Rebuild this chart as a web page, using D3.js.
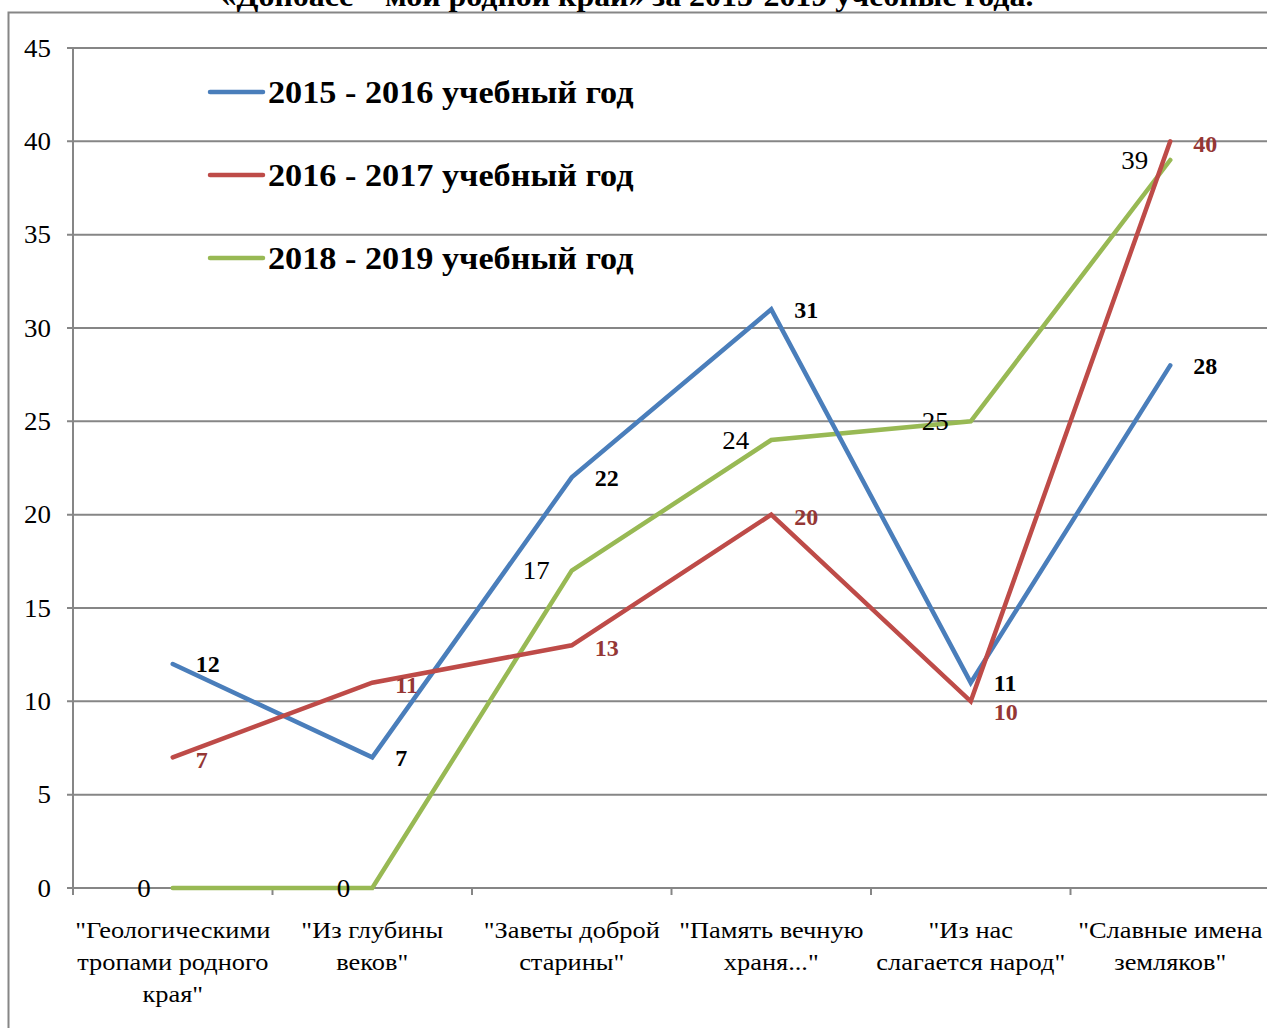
<!DOCTYPE html>
<html>
<head>
<meta charset="utf-8">
<script src="https://cdnjs.cloudflare.com/ajax/libs/d3/7.8.5/d3.min.js"></script>
<style>
  body { margin: 0; background: #fff; }
  svg { display: block; font-family: "Liberation Serif", "Times New Roman", serif; }
</style>
</head>
<body>
<div id="chart"></div>
<script>
// categories (line breaks as in the picture)
var categories = [
  "\"Геологическими\nтропами родного\nкрая\"",
  "\"Из глубины\nвеков\"",
  "\"Заветы доброй\nстарины\"",
  "\"Память вечную\nхраня...\"",
  "\"Из нас\nслагается народ\"",
  "\"Славные имена\nземляков\""
];
var seriesNames = ["2015 - 2016 учебный год", "2016 - 2017 учебный год", "2018 - 2019 учебный год"];
var values2015 = [12, 7, 22, 31, 11, 28];
var values2016 = [7, 11, 13, 20, 10, 40];
var values2018 = [0, 0, 17, 24, 25, 39];
var yTicks = [0, 5, 10, 15, 20, 25, 30, 35, 40, 45];
var title = "«Донбасс – мой родной край» за 2015-2019 учебные года.";

var W = 1267, H = 1028;
var svg = d3.select("#chart").append("svg")
    .attr("width", W)
    .attr("height", H);

var gridColor = "#868686";
// the picture's text is a little wider than Liberation Serif
var stretch = function (sx) {
  return function (px, py) { return "translate(" + px + "," + py + ") scale(" + sx + ",1)"; };
};
var wide = stretch(1.1);

// frame round the chart
svg.append("path")
    .attr("d", "M8.5," + H + "V12.5H" + W)
    .attr("fill", "none")
    .attr("stroke", gridColor)
    .attr("stroke-width", 2);

// title, cut by the top edge like in the picture
svg.append("text")
    .attr("transform", wide(627, 6))
    .attr("text-anchor", "middle")
    .attr("font-size", 29).attr("font-weight", "bold")
    .text(title);

var x = d3.scaleBand().domain(d3.range(categories.length)).range([73, 1270]).padding(0);
var y = d3.scaleLinear().domain([0, 45]).range([888, 48]);
var cx = function (i) { return x(i) + x.bandwidth() / 2; };

// horizontal grid + y ticks
svg.append("g").selectAll("line")
    .data(yTicks)
    .enter().append("line")
    .attr("x1", 67).attr("x2", 1270)
    .attr("y1", function (d) { return y(d); })
    .attr("y2", function (d) { return y(d); })
    .attr("stroke", gridColor).attr("stroke-width", 2);

svg.append("line")
    .attr("x1", 73).attr("x2", 73)
    .attr("y1", y(45)).attr("y2", y(0))
    .attr("stroke", gridColor).attr("stroke-width", 2);

svg.append("g").selectAll("text")
    .data(yTicks)
    .enter().append("text")
    .attr("transform", function (d) { return wide(51, y(d)); })
    .attr("dy", "0.35em")
    .attr("text-anchor", "end")
    .attr("font-size", 24.5)
    .text(function (d) { return d; });

// x ticks at category boundaries
var bounds = d3.range(categories.length + 1);
svg.append("g").selectAll("line")
    .data(bounds)
    .enter().append("line")
    .attr("x1", function (d) { return 73 + d * x.bandwidth(); })
    .attr("x2", function (d) { return 73 + d * x.bandwidth(); })
    .attr("y1", y(0)).attr("y2", y(0) + 7)
    .attr("stroke", gridColor).attr("stroke-width", 2);

// category labels
var catG = svg.append("g").selectAll("text")
    .data(categories)
    .enter().append("text")
    .attr("text-anchor", "middle")
    .attr("font-size", 24)
    .attr("transform", function (d, i) { return wide(cx(i), 938); });
catG.selectAll("tspan")
    .data(function (d) { return d.split("\n"); })
    .enter().append("tspan")
    .attr("x", 0)
    .attr("y", function (d, i) { return i * 32; })
    .text(function (d) { return d; });

// lines
var series = [
  { name: seriesNames[0], values: values2015, color: "#4A7EBB" },
  { name: seriesNames[1], values: values2016, color: "#BE4B48" },
  { name: seriesNames[2], values: values2018, color: "#98B954" }
];

var line = d3.line()
    .x(function (d, i) { return cx(i); })
    .y(function (d) { return y(d); });

// red sits over blue near "Из нас"
svg.append("g").selectAll("path")
    .data([series[2], series[0], series[1]])
    .enter().append("path")
    .attr("d", function (s) { return line(s.values); })
    .attr("fill", "none")
    .attr("stroke", function (s) { return s.color; })
    .attr("stroke-width", 4.5)
    .attr("stroke-linejoin", "miter")
    .attr("stroke-linecap", "round");

// data labels
svg.append("g").selectAll("text")
    .data(values2015)
    .enter().append("text")
    .attr("x", function (d, i) { return cx(i) + 23; })
    .attr("y", function (d) { return y(d); })
    .attr("dy", "0.35em")
    .attr("font-size", 24).attr("font-weight", "bold")
    .attr("fill", "#000")
    .text(function (d) { return d; });

svg.append("g").selectAll("text")
    .data(values2016)
    .enter().append("text")
    .attr("x", function (d, i) { return cx(i) + 23; })
    .attr("y", function (d, i) { return y(d) + (i === 4 ? 10 : 2); })
    .attr("dy", "0.35em")
    .attr("font-size", 24).attr("font-weight", "bold")
    .attr("fill", "#953735")
    .text(function (d) { return d; });

svg.append("g").selectAll("text")
    .data(values2018)
    .enter().append("text")
    .attr("transform", function (d, i) { return wide(cx(i) - 22, y(d)); })
    .attr("dy", "0.35em")
    .attr("text-anchor", "end")
    .attr("font-size", 24.5)
    .attr("fill", "#000")
    .text(function (d) { return d; });

// legend
var legend = svg.append("g").selectAll("g")
    .data(series)
    .enter().append("g")
    .attr("transform", function (d, i) { return "translate(210," + (92 + i * 83) + ")"; });
legend.append("line")
    .attr("x1", 0).attr("x2", 53)
    .attr("stroke", function (d) { return d.color; })
    .attr("stroke-width", 4.5)
    .attr("stroke-linecap", "round");
legend.append("text")
    .attr("transform", stretch(1.07)(58, 0))
    .attr("dy", "0.35em")
    .attr("font-size", 32).attr("font-weight", "bold")
    .text(function (d) { return d.name; });
</script>
</body>
</html>
